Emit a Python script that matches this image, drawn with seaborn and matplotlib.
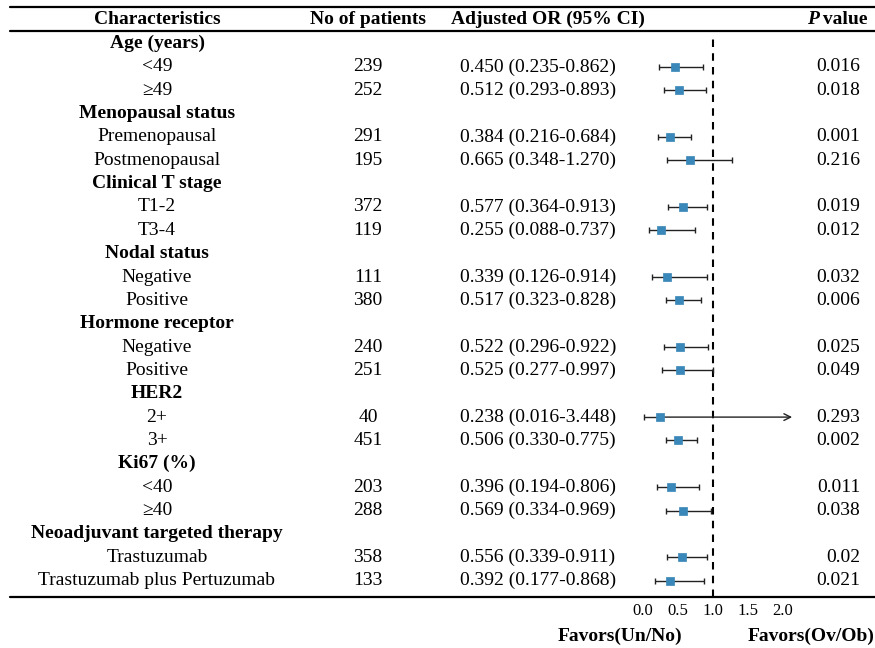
import matplotlib
matplotlib.use("Agg")
import matplotlib.pyplot as plt
import seaborn as sns
import numpy as np

# rows of the table (groups have no numbers)
labels = ["Age (years)", "<49", "\u226549",
          "Menopausal status", "Premenopausal", "Postmenopausal",
          "Clinical T stage", "T1-2", "T3-4",
          "Nodal status", "Negative", "Positive",
          "Hormone receptor", "Negative", "Positive",
          "HER2", "2+", "3+",
          "Ki67 (%)", "<40", "\u226540",
          "Neoadjuvant targeted therapy", "Trastuzumab", "Trastuzumab plus Pertuzumab"]
is_group = [True, False, False] * 8

n_pat = [239, 252, 291, 195, 372, 119, 111, 380, 240, 251, 40, 451, 203, 288, 358, 133]
or_val = [0.450, 0.512, 0.384, 0.665, 0.577, 0.255, 0.339, 0.517, 0.522, 0.525, 0.238, 0.506, 0.396, 0.569, 0.556, 0.392]
ci_lo = [0.235, 0.293, 0.216, 0.348, 0.364, 0.088, 0.126, 0.323, 0.296, 0.277, 0.016, 0.330, 0.194, 0.334, 0.339, 0.177]
ci_hi = [0.862, 0.893, 0.684, 1.270, 0.913, 0.737, 0.914, 0.828, 0.922, 0.997, 3.448, 0.775, 0.806, 0.969, 0.911, 0.868]
p_val = ["0.016", "0.018", "0.001", "0.216", "0.019", "0.012", "0.032", "0.006",
         "0.025", "0.049", "0.293", "0.002", "0.011", "0.038", "0.02", "0.021"]
ticks = [0.0, 0.5, 1.0, 1.5, 2.0]

sns.set_theme(style="white")
plt.rcParams["font.family"] = ["Liberation Serif", "DejaVu Serif"]
plt.rcParams["text.color"] = "black"
plt.rcParams["xtick.color"] = "black"
fs = 14

W, H = 875, 648
fig = plt.figure(figsize=(W / 100, H / 100), dpi=100)
bg = fig.add_axes([0, 0, 1, 1])
bg.set_xlim(0, W)
bg.set_ylim(H, 0)
bg.axis("off")

head_y = 19
row_y = 43.5 + np.arange(len(labels)) * 23.35
sub_y = row_y[[not g for g in is_group]]

# header
bg.text(157, head_y, "Characteristics", ha="center", va="center", fontsize=fs, weight="bold")
bg.text(368, head_y, "No of patients", ha="center", va="center", fontsize=fs, weight="bold")
bg.text(548, head_y, "Adjusted OR (95% CI)", ha="center", va="center", fontsize=fs, weight="bold")
tv = bg.text(868, head_y, " value", ha="right", va="center", fontsize=fs, weight="bold")
bg.annotate("P", xy=(0, 0), xycoords=tv, ha="right", va="bottom", fontsize=fs,
            weight="bold", style="italic")

for y, lab, g in zip(row_y, labels, is_group):
    bg.text(157, y, lab, ha="center", va="center", fontsize=fs,
            weight="bold" if g else "normal")

for y, n, o, lo, hi, p in zip(sub_y, n_pat, or_val, ci_lo, ci_hi, p_val):
    bg.text(368, y, str(n), ha="center", va="center", fontsize=fs)
    bg.text(538, y, f"{o:.3f} ({lo:.3f}-{hi:.3f})", ha="center", va="center", fontsize=fs)
    bg.text(860, y, p, ha="right", va="center", fontsize=fs)

for y in [7, 31, 597]:
    bg.plot([10, W], [y, y], color="black", lw=1.6)

bg.text(620, 636, "Favors(Un/No)", ha="center", va="center", fontsize=14, weight="bold")
bg.text(875, 636, "Favors(Ov/Ob)", ha="right", va="center", fontsize=14, weight="bold")

# forest panel, 70 px per OR unit, OR=0 at x=643
px0, px1, top, bot = 620, 800, 35, 597
ax = fig.add_axes([px0 / W, 1 - bot / H, (px1 - px0) / W, (bot - top) / H])
ax.patch.set_alpha(0)
ax.set_xlim((px0 - 643) / 70, (px1 - 643) / 70)
ax.set_ylim(bot, top)
for s in ax.spines.values():
    s.set_visible(False)
ax.set_yticks([])
ax.set_xticks(ticks)
ax.set_xticklabels([f"{t:.1f}" for t in ticks], fontsize=12)
ax.tick_params(axis="x", length=0, pad=4)

ax.axvline(1.0, color="black", lw=1.5, ls=(0, (3.6, 3.0)))

xmax_arrow = 2.17
lo_a = np.array(ci_lo)
hi_a = np.array(ci_hi)
o_a = np.array(or_val)
inside = hi_a <= xmax_arrow
ax.errorbar(o_a[inside], sub_y[inside],
            xerr=[o_a[inside] - lo_a[inside], hi_a[inside] - o_a[inside]],
            fmt="none", ecolor="#222222", elinewidth=1, capsize=2.2, capthick=1)
for o, lo, y in zip(o_a[~inside], lo_a[~inside], sub_y[~inside]):
    ax.errorbar([o], [y], xerr=[[o - lo], [0]], fmt="none", ecolor="#222222",
                elinewidth=1, capsize=2.2, capthick=1)
    ax.annotate("", xy=(xmax_arrow, y), xytext=(o, y),
                arrowprops=dict(arrowstyle="->", color="#222222", lw=1))

sns.scatterplot(x=o_a, y=sub_y, ax=ax, marker="s", s=38, color="#3A87B9",
                edgecolor="#3A87B9", linewidth=0.5, zorder=3, legend=False)
ax.set_xlabel("")
ax.set_ylabel("")

fig.savefig("out.png", dpi=100)
